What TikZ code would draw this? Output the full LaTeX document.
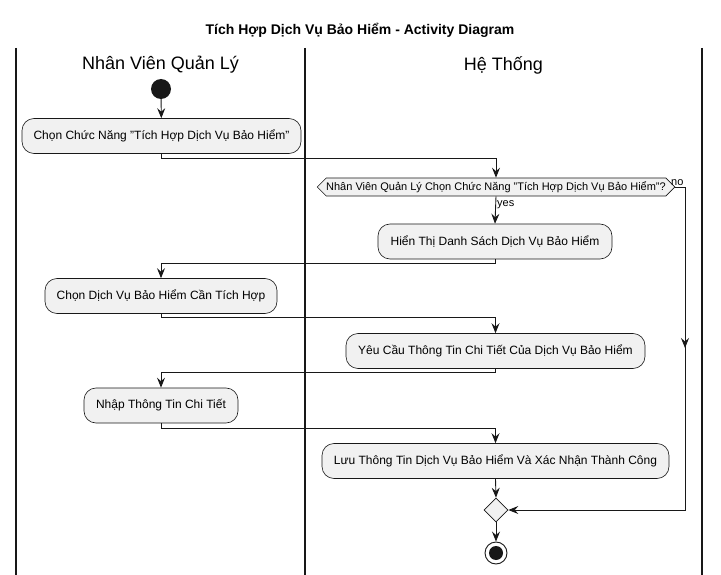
\documentclass[tikz,border=0pt]{standalone}
\usepackage{fontspec}
\setmainfont{Liberation Sans}
\usetikzlibrary{shapes.geometric,shapes.symbols,arrows.meta,calc}
\definecolor{ln}{HTML}{181818}
\definecolor{bx}{HTML}{F1F1F1}
\begin{document}
\begin{tikzpicture}[x=1pt,y=-1pt,
  act/.style={draw=ln, fill=bx, rounded corners=12pt, minimum height=35pt, inner sep=0pt,
    font=\fontsize{12}{14}\selectfont, line width=0.6pt},
  flow/.style={draw=ln, line width=0.9pt, -{Stealth[length=10pt,width=8pt,inset=3.5pt]}},
  lane/.style={draw=ln, line width=1.4pt},
  lbl/.style={font=\fontsize{11}{13}\selectfont, inner sep=1pt}]
\useasboundingbox (0,0) rectangle (721,575);
% title
\node[font=\fontsize{14}{16}\selectfont\bfseries] (title) at (360,30) {Tích Hợp Dịch Vụ Bảo Hiểm - Activity Diagram};
% swimlanes
\coordinate (l1t) at (16,48); \coordinate (l1b) at (16,575);
\coordinate (l2t) at (305,48); \coordinate (l2b) at (305,575);
\coordinate (l3t) at (702,48); \coordinate (l3b) at (702,575);
\draw[lane] (l1t) -- (l1b);
\draw[lane] (l2t) -- (l2b);
\draw[lane] (l3t) -- (l3b);
\node[font=\fontsize{18}{20}\selectfont] (h1) at (160.5,65) {Nhân Viên Quản Lý};
\node[font=\fontsize{18}{20}\selectfont] (h2) at (503.5,65) {Hệ Thống};
% nodes
\node[circle, fill=ln, minimum size=20pt, inner sep=0pt] (start) at (161,89) {};
\node[act, minimum width=279pt] (a1) at (161.5,136) {Chọn Chức Năng "Tích Hợp Dịch Vụ Bảo Hiểm"};
\node[signal, signal to=west and east, signal pointer angle=90, draw=ln, fill=bx, line width=0.6pt,
      minimum width=352pt, minimum height=18pt, inner sep=0pt, font=\fontsize{11}{13}\selectfont] (dec) at (496,187)
      {Nhân Viên Quản Lý Chọn Chức Năng "Tích Hợp Dịch Vụ Bảo Hiểm"?};
\node[act, minimum width=234pt] (a2) at (495,241.5) {Hiển Thị Danh Sách Dịch Vụ Bảo Hiểm};
\node[act, minimum width=232pt] (a3) at (161,296) {Chọn Dịch Vụ Bảo Hiểm Cần Tích Hợp};
\node[act, minimum width=299pt] (a4) at (495.5,351) {Yêu Cầu Thông Tin Chi Tiết Của Dịch Vụ Bảo Hiểm};
\node[act, minimum width=154pt] (a5) at (161,405.5) {Nhập Thông Tin Chi Tiết};
\node[act, minimum width=347pt] (a6) at (495.5,461) {Lưu Thông Tin Dịch Vụ Bảo Hiểm Và Xác Nhận Thành Công};
\node[diamond, draw=ln, fill=bx, line width=0.6pt, minimum size=24pt, inner sep=0pt, aspect=1] (merge) at (496,510) {};
\node[circle, draw=ln, fill=white, line width=0.9pt, minimum size=22pt, inner sep=0pt] (end) at (496,553) {};
\node[circle, fill=ln, minimum size=14pt, inner sep=0pt] (endin) at (end.center) {};
% connectors
\draw[flow] (start) -- (a1);
\draw[flow] (a1.south) -- ++(0,5) -| (dec.north);
\draw[flow] (dec.south) -- node[lbl, pos=0.3, right] (yes) {yes} (a2.north);
\coordinate (n1) at (685,187);
\coordinate (nm) at (685,348);
\coordinate (nm0) at (685,340);
\coordinate (n2) at (685,510);
\node[lbl, anchor=south west] (no) at (670,187) {no};
\draw[flow] (dec.east) -- (n1) -- (nm);
\draw[flow] (nm0) -- (n2) -- (merge.east);
\draw[flow] (a2.south) -- ++(0,4) -| (a3.north);
\draw[flow] (a3.south) -- ++(0,4) -| (a4.north);
\draw[flow] (a4.south) -- ++(0,4) -| (a5.north);
\draw[flow] (a5.south) -- ++(0,5) -| (a6.north);
\draw[flow] (a6.south) -- (merge.north);
\draw[flow] (merge.south) -- (end.north);
\end{tikzpicture}
\end{document}
